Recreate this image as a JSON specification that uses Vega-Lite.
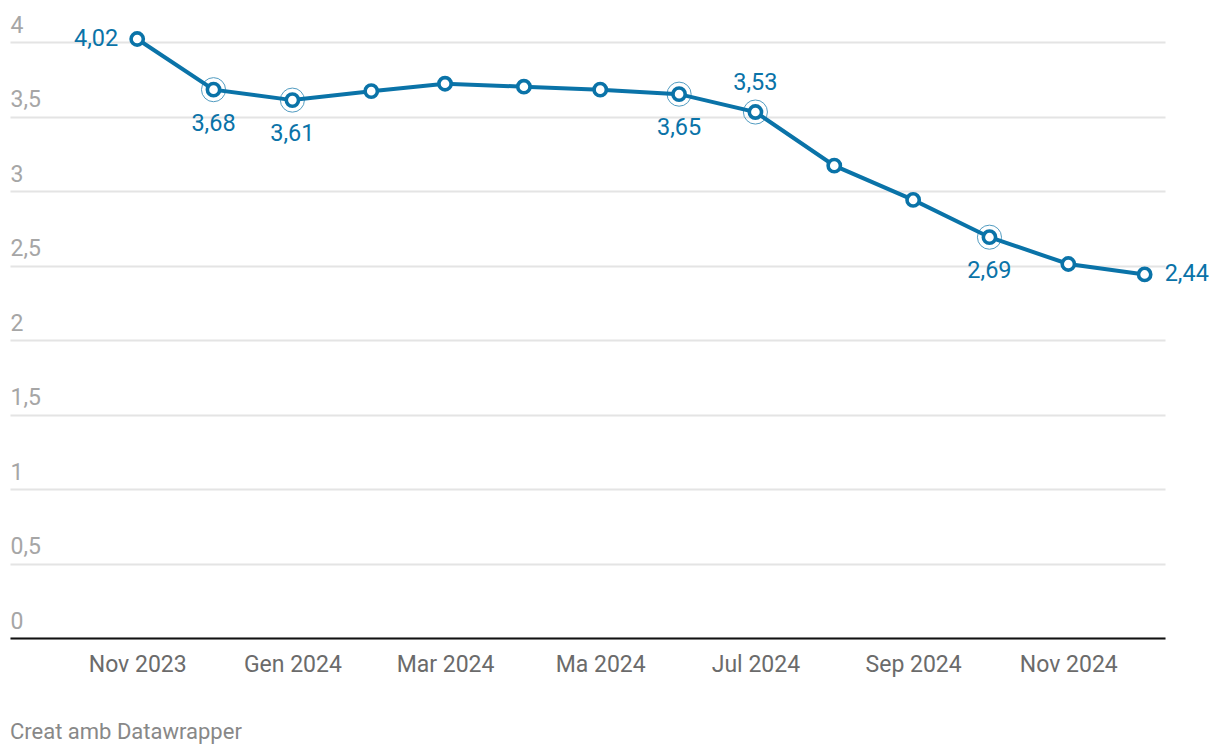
{
  "$schema": "https://vega.github.io/schema/vega-lite/v6.json",
  "width": 1155,
  "height": 596,
  "autosize": {"type": "none"},
  "padding": {"left": 10, "top": 42, "right": 55, "bottom": 118},
  "background": "white",
  "config": {
    "font": "Roboto",
    "view": {"stroke": null},
    "locale": {"number": {"decimal": ",", "thousands": ".", "grouping": [3], "currency": ["", " €"]}}
  },
  "title": {
    "text": "Creat amb Datawrapper",
    "orient": "bottom",
    "anchor": "start",
    "frame": "group",
    "font": "Roboto",
    "fontSize": 22,
    "fontWeight": "normal",
    "color": "#888888",
    "baseline": "top",
    "offset": 46
  },
  "data": {
    "values": [
      {"date": "2023-11-01", "value": 4.02},
      {"date": "2023-12-01", "value": 3.68},
      {"date": "2024-01-01", "value": 3.61},
      {"date": "2024-02-01", "value": 3.67},
      {"date": "2024-03-01", "value": 3.72},
      {"date": "2024-04-01", "value": 3.70},
      {"date": "2024-05-01", "value": 3.68},
      {"date": "2024-06-01", "value": 3.65},
      {"date": "2024-07-01", "value": 3.53},
      {"date": "2024-08-01", "value": 3.17},
      {"date": "2024-09-01", "value": 2.94},
      {"date": "2024-10-01", "value": 2.69},
      {"date": "2024-11-01", "value": 2.51},
      {"date": "2024-12-01", "value": 2.44}
    ]
  },
  "encoding": {
    "x": {
      "field": "date",
      "type": "temporal",
      "scale": {
        "type": "utc",
        "domain": [
          {"year": 2023, "month": 9, "date": 12, "utc": true},
          {"year": 2024, "month": 12, "date": 9, "utc": true}
        ]
      },
      "axis": {
        "title": null,
        "values": [
          {"year": 2023, "month": 11, "date": 1, "utc": true},
          {"year": 2024, "month": 1, "date": 1, "utc": true},
          {"year": 2024, "month": 3, "date": 1, "utc": true},
          {"year": 2024, "month": 5, "date": 1, "utc": true},
          {"year": 2024, "month": 7, "date": 1, "utc": true},
          {"year": 2024, "month": 9, "date": 1, "utc": true},
          {"year": 2024, "month": 11, "date": 1, "utc": true}
        ],
        "labelExpr": "['Gen','Feb','Mar','Abr','Ma','Jun','Jul','Ago','Sep','Oct','Nov','Des'][utcmonth(datum.value)] + ' ' + utcyear(datum.value)",
        "grid": false,
        "ticks": false,
        "domain": true,
        "domainColor": "#111111",
        "domainWidth": 2,
        "labelFont": "Roboto",
        "labelFontSize": 23,
        "labelColor": "#6b6b6b",
        "labelPadding": 15,
        "labelBaseline": "top",
        "labelFlush": false,
        "labelOverlap": false
      }
    },
    "y": {
      "field": "value",
      "type": "quantitative",
      "scale": {"domain": [0, 4], "nice": false, "zero": true},
      "axis": {
        "title": null,
        "values": [0, 0.5, 1, 1.5, 2, 2.5, 3, 3.5, 4],
        "format": ".1~f",
        "grid": true,
        "gridColor": "#e4e4e4",
        "gridWidth": 2,
        "domain": false,
        "ticks": false,
        "tickSize": 0,
        "labelAlign": "left",
        "labelBaseline": "alphabetic",
        "labelPadding": 0,
        "labelOffset": -10,
        "labelFont": "Roboto",
        "labelFontSize": 23,
        "labelColor": "#a6a6a6"
      }
    }
  },
  "layer": [
    {
      "mark": {"type": "line", "color": "#0a73a8", "strokeWidth": 4}
    },
    {
      "transform": [{"filter": "indexof([202312, 202401, 202406, 202407, 202410], utcyear(datum.date) * 100 + utcmonth(datum.date) + 1) >= 0"}],
      "mark": {"type": "point", "shape": "circle", "size": 580, "filled": false, "stroke": "#0a73a8", "strokeWidth": 1}
    },
    {
      "mark": {"type": "point", "shape": "circle", "size": 150, "filled": true, "fill": "white", "stroke": "#0a73a8", "strokeWidth": 3.6, "opacity": 1}
    },
    {
      "transform": [{"filter": "utcyear(datum.date) * 100 + utcmonth(datum.date) + 1 == 202311"}],
      "mark": {"type": "text", "align": "right", "baseline": "middle", "dx": -19, "font": "Roboto", "fontSize": 23.5, "color": "#0a73a8"},
      "encoding": {"text": {"field": "value", "type": "quantitative", "format": ".2f"}}
    },
    {
      "transform": [{"filter": "utcyear(datum.date) * 100 + utcmonth(datum.date) + 1 == 202412"}],
      "mark": {"type": "text", "align": "left", "baseline": "middle", "dx": 20, "font": "Roboto", "fontSize": 23.5, "color": "#0a73a8"},
      "encoding": {"text": {"field": "value", "type": "quantitative", "format": ".2f"}}
    },
    {
      "transform": [{"filter": "indexof([202312, 202401, 202406, 202410], utcyear(datum.date) * 100 + utcmonth(datum.date) + 1) >= 0"}],
      "mark": {"type": "text", "align": "center", "baseline": "middle", "dy": 34, "font": "Roboto", "fontSize": 23.5, "color": "#0a73a8"},
      "encoding": {"text": {"field": "value", "type": "quantitative", "format": ".2f"}}
    },
    {
      "transform": [{"filter": "utcyear(datum.date) * 100 + utcmonth(datum.date) + 1 == 202407"}],
      "mark": {"type": "text", "align": "center", "baseline": "middle", "dy": -29, "font": "Roboto", "fontSize": 23.5, "color": "#0a73a8"},
      "encoding": {"text": {"field": "value", "type": "quantitative", "format": ".2f"}}
    }
  ]
}
